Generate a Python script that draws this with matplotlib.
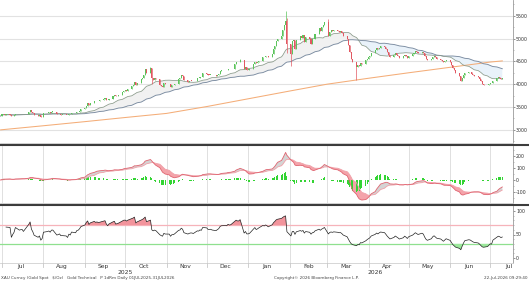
import numpy as np
import pandas as pd
import matplotlib
matplotlib.use("Agg")
import matplotlib.pyplot as plt
import matplotlib.dates as mdates
import matplotlib.transforms as mtrans
from matplotlib.lines import Line2D

# ---------------- data (daily closes) ----------------
close_jun25 = [3303]
close_jul25 = [3338, 3357, 3326, 3337, 3336, 3301, 3313, 3324, 3355, 3343, 3346, 3348,
               3339, 3350, 3397, 3431, 3387, 3368, 3336, 3314, 3326, 3274, 3289]
close_aug25 = [3363, 3373, 3381, 3368, 3397, 3398, 3342, 3348, 3356, 3335, 3336, 3332,
               3315, 3348, 3339, 3372, 3365, 3393, 3397, 3416, 3448]
close_sep25 = [3477, 3533, 3578, 3545, 3587, 3636, 3626, 3640, 3634, 3643, 3679, 3689,
               3660, 3644, 3685, 3746, 3764, 3736, 3749, 3760, 3833, 3859]
close_oct25 = [3866, 3857, 3887, 3961, 3985, 4042, 3976, 4018, 4110, 4142, 4209, 4326,
               4251, 4356, 4125, 4095, 4126, 4112, 3981, 3952, 3930, 4024, 4002]
close_nov25 = [4000, 3932, 3980, 3977, 4001, 4115, 4128, 4195, 4171, 4084, 4046, 4067,
               4078, 4077, 4065, 4135, 4131, 4163, 4155, 4239]
close_dec25 = [4232, 4206, 4205, 4209, 4198, 4189, 4208, 4229, 4280, 4300, 4305, 4303,
               4339, 4331, 4339, 4444, 4488, 4480, 4480, 4532, 4331, 4372, 4319]
close_jan26 = [4319, 4330, 4446, 4495, 4456, 4478, 4509, 4597, 4588, 4626, 4615, 4596,
               4670, 4765, 4835, 4940, 4985, 5060, 5180, 5300, 5380, 4890]
close_feb26 = [4660, 4950, 4960, 4780, 4960, 5060, 5020, 5080, 4930, 5040, 5000, 4890,
               4980, 5000, 5100, 5220, 5170, 5250, 5300, 5370]
close_mar26 = [5050, 5150, 5180, 5160, 5190, 5170, 5150, 5160, 5120, 5060, 4980, 4850,
               4700, 4560, 4480, 4380, 4420, 4400, 4470, 4450, 4520, 4560]
close_apr26 = [4590, 4620, 4680, 4740, 4790, 4760, 4800, 4830, 4810, 4760, 4700, 4650,
               4600, 4640, 4680, 4650, 4620, 4580, 4610, 4650, 4620, 4580]
close_may26 = [4620, 4660, 4690, 4720, 4700, 4680, 4710, 4690, 4620, 4560, 4530, 4560,
               4600, 4620, 4590, 4560, 4540, 4510, 4480, 4500, 4520]
close_jun26 = [4480, 4420, 4350, 4300, 4240, 4170, 4080, 4140, 4200, 4250, 4270, 4260,
               4230, 4200, 4180, 4160, 4120, 4060, 4000, 3980, 3990, 4010]
close_jul26 = [4030, 4020, 4080, 4130, 4150, 4140, 4120, 4130]

# notable wick extremes
wick_high = {"2025-10-20": 4381, "2025-12-26": 4550, "2026-01-29": 5595,
             "2026-01-30": 5450, "2026-03-02": 5420}
wick_low = {"2025-10-21": 4004, "2026-01-30": 4680, "2026-02-02": 4400,
            "2026-03-23": 4100}

# 200-day moving average
ma200_dates = ["2025-06-30", "2025-08-01", "2025-09-01", "2025-10-01", "2025-11-01",
               "2025-12-01", "2026-01-01", "2026-02-01", "2026-03-01", "2026-04-01",
               "2026-05-01", "2026-06-01", "2026-07-01", "2026-07-10"]
ma200_vals = [3000, 3090, 3180, 3270, 3360, 3510, 3680, 3850, 4000, 4130,
              4250, 4370, 4485, 4510]

price_ticks = [3000, 3500, 4000, 4500, 5000, 5500]
macd_ticks = [-100, 0, 100, 200]
rsi_ticks = [0, 50, 100]
month_names = ["Jul", "Aug", "Sep", "Oct", "Nov", "Dec", "Jan", "Feb", "Mar", "Apr",
               "May", "Jun", "Jul"]

# ---------------- series ----------------
closes = (close_jun25 + close_jul25 + close_aug25 + close_sep25 + close_oct25 + close_nov25
          + close_dec25 + close_jan26 + close_feb26 + close_mar26 + close_apr26
          + close_may26 + close_jun26 + close_jul26)
dates = pd.bdate_range("2025-06-30", "2026-07-10")
s = pd.Series(np.array(closes, float), index=dates)
o = s.shift(1).fillna(s.iloc[0])
hi = np.maximum(o, s).copy()
lo = np.minimum(o, s).copy()
for d, v in wick_high.items():
    hi[pd.Timestamp(d)] = v
for d, v in wick_low.items():
    lo[pd.Timestamp(d)] = v

ma20 = s.rolling(20, min_periods=1).mean()
ma50 = s.rolling(50, min_periods=1).mean()

ema12 = s.ewm(span=12, adjust=False).mean()
ema26 = s.ewm(span=26, adjust=False).mean()
macd = ema12 - ema26
sig = macd.ewm(span=9, adjust=False).mean()
hist = macd - sig

delta = s.diff().fillna(0)
gain = delta.clip(lower=0).ewm(alpha=1 / 14, adjust=True).mean()
loss = (-delta.clip(upper=0)).ewm(alpha=1 / 14, adjust=True).mean()
rsi = 100 - 100 / (1 + gain / loss)
rsi.iloc[:4] = np.nan

x = mdates.date2num(dates)
xmin = mdates.date2num(pd.Timestamp("2025-06-29 12:00"))
xmax = mdates.date2num(pd.Timestamp("2026-07-18"))

# ---------------- figure ----------------
W, H = 529, 281
fig = plt.figure(figsize=(W / 100, H / 100), dpi=100)
fig.patch.set_facecolor("white")
plt.rcParams["font.family"] = ["DejaVu Sans"]

def fx(px):
    return px / W

def fy(py):
    return (H - py) / H

right = fx(513)
ax1 = fig.add_axes([0, fy(143), right, fy(0) - fy(143)])
ax2 = fig.add_axes([0, fy(203), right, fy(146) - fy(203)])
ax3 = fig.add_axes([0, fy(263), right, fy(206) - fy(263)])

axis_col = "#9a9a9a"
for ax in (ax1, ax2, ax3):
    ax.set_xlim(xmin, xmax)
    ax.set_facecolor("white")
    for sp in ("top", "left"):
        ax.spines[sp].set_visible(False)
    ax.spines["bottom"].set_color("#d0d0d0")
    ax.spines["bottom"].set_linewidth(0.6)
    ax.spines["right"].set_color(axis_col)
    ax.spines["right"].set_linewidth(0.6)
    ax.yaxis.tick_right()
    ax.tick_params(axis="y", which="major", labelsize=3.4, length=1.6, width=0.5,
                   color="#666666", pad=0.6, labelcolor="#333333")
    ax.tick_params(axis="y", which="minor", length=1.0, width=0.4, color="#888888")
    ax.tick_params(axis="x", which="both", bottom=False, labelbottom=False)

# ---- main price panel ----
ax1.set_ylim(2712, 5844)
for t in price_ticks:
    ax1.axhline(t, color="#e2e2e2", lw=0.8, zorder=0)
ax1.set_yticks(price_ticks)
ax1.set_yticklabels([str(t) for t in price_ticks])
ax1.set_yticks(np.arange(2750, 5800, 250), minor=True)

ax1.fill_between(x, ma20, ma50, where=(ma20 >= ma50), color="#f1f1f1", lw=0, zorder=1,
                 interpolate=True)
ax1.fill_between(x, ma20, ma50, where=(ma20 < ma50), color="#e9f2fa", lw=0, zorder=1,
                 interpolate=True)
ax1.plot(mdates.date2num(pd.to_datetime(ma200_dates)), ma200_vals, color="#f4ad78",
         lw=0.75, zorder=2)
ax1.plot(x, ma50, color="#7a8ba0", lw=0.65, zorder=3)
ax1.plot(x, ma20, color="#8a9a8a", lw=0.55, zorder=3)

up = (s.values >= o.values)
cols = np.where(up, "#5cc45c", "#e25862")
ax1.vlines(x, lo.values, hi.values, colors=cols, lw=0.5, zorder=4)
body_lo = np.minimum(o.values, s.values)
body_h = np.maximum(np.abs(s.values - o.values), 8)
ax1.bar(x, body_h, bottom=body_lo, width=0.8, color=cols, lw=0, zorder=5)

# ---- MACD panel ----
ax2.set_ylim(-192, 283)
m0 = mdates.date2num(pd.date_range("2025-07-01", "2026-07-01", freq="MS"))
for ax in (ax2, ax3):
    for m in m0:
        ax.axvline(m, color="#dadada", lw=0.6, zorder=0)
ax2.set_yticks(macd_ticks)
ax2.set_yticklabels([str(t) for t in macd_ticks])
ax2.set_yticks(np.arange(-150, 280, 50), minor=True)
ax2.bar(x, hist.values, width=0.7, color="#33d433", lw=0, zorder=2)
ax2.fill_between(x, macd, sig, where=(macd >= sig), color="#d4d4d4", lw=0, zorder=1,
                 interpolate=True)
ax2.fill_between(x, macd, sig, where=(macd < sig), color="#f4a3aa", lw=0, zorder=1,
                 interpolate=True)
ax2.plot(x, sig, color="#f0a0a8", lw=0.6, zorder=3)
ax2.plot(x, macd, color="#e06470", lw=0.6, zorder=3)

# ---- RSI panel ----
ax3.set_ylim(-10.6, 110.6)
ax3.set_yticks(rsi_ticks)
ax3.set_yticklabels([str(t) for t in rsi_ticks])
ax3.set_yticks(np.arange(10, 100, 10), minor=True)
ax3.axhline(70, color="#f6b3ba", lw=0.9, zorder=1)
ax3.axhline(30, color="#8fe08f", lw=0.9, zorder=1)
ax3.fill_between(x, rsi, 70, where=(rsi > 70), color="#f2949c", lw=0, zorder=2,
                 interpolate=True)
ax3.fill_between(x, rsi, 30, where=(rsi < 30), color="#9be89b", lw=0, zorder=2,
                 interpolate=True)
ax3.plot(x, rsi, color="#222222", lw=0.5, zorder=3)

# month tick marks below RSI panel
blend = mtrans.blended_transform_factory(ax3.transData, fig.transFigure)
for m in m0:
    fig.add_artist(Line2D([m, m], [fy(263), fy(267)], transform=blend,
                          color="#c8c8c8", lw=0.6))
mids = mdates.date2num(pd.date_range("2025-07-01", "2026-07-01", freq="MS") +
                       pd.Timedelta(days=14))
for m, name in zip(mids, month_names):
    ax3.text(m, fy(266.5), name, transform=blend, ha="center", va="center",
             fontsize=4.3, color="#333333")
ax3.text(mdates.date2num(pd.Timestamp("2025-10-01")), fy(272.5), "2025", transform=blend,
         ha="center", va="center", fontsize=4.3, color="#333333")
ax3.text(mdates.date2num(pd.Timestamp("2026-04-06")), fy(272.5), "2026", transform=blend,
         ha="center", va="center", fontsize=4.3, color="#333333")

# dark separators
for py in (145, 204.5):
    fig.add_artist(Line2D([0, 1], [fy(py), fy(py)], transform=fig.transFigure,
                          color="#3c3c3c", lw=1.5))

# footer
fig.text(fx(1), fy(278), "XAU Curncy (Gold Spot   $/Oz)   Gold Technical   P 1dRm Daily 01JUL2025-31JUL2026",
         fontsize=3.0, color="#444444", ha="left", va="center")
fig.text(fx(316), fy(278), "Copyright\u00a9 2026 Bloomberg Finance L.P.", fontsize=3.0,
         color="#444444", ha="center", va="center")
fig.text(fx(528), fy(278), "22-Jul-2026 09:29:40", fontsize=3.0, color="#444444",
         ha="right", va="center")

fig.savefig("out.png", dpi=100, facecolor="white")
